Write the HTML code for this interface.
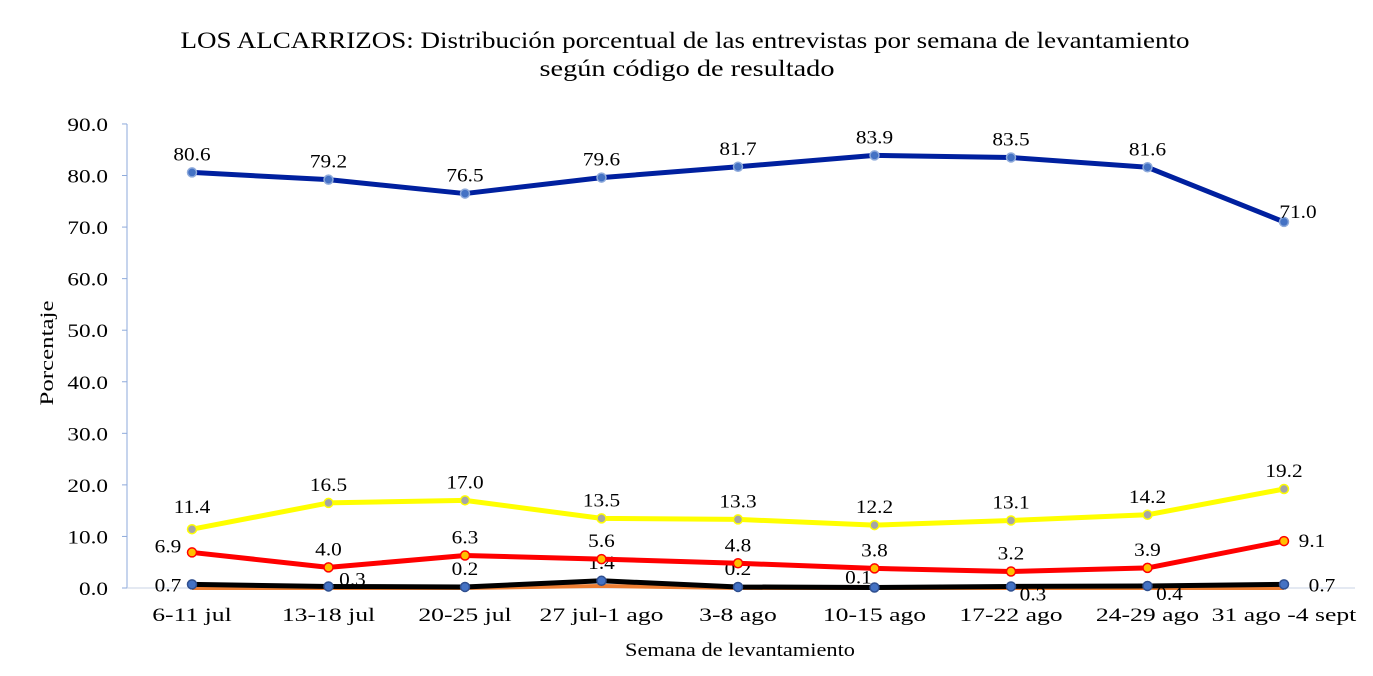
<!DOCTYPE html>
<html><head><meta charset="utf-8"><style>
body{margin:0;background:#fff;}
svg{display:block;font-family:"Liberation Serif",serif;}
</style></head><body>
<svg id="c" width="1373" height="676">
<text x="685" y="48" text-anchor="middle" font-size="23" textLength="1009" lengthAdjust="spacingAndGlyphs">LOS ALCARRIZOS: Distribución porcentual de las entrevistas por semana de levantamiento</text>
<text x="687" y="76" text-anchor="middle" font-size="23" textLength="295" lengthAdjust="spacingAndGlyphs">según código de resultado</text>
<text x="740" y="656" text-anchor="middle" font-size="19" textLength="230" lengthAdjust="spacingAndGlyphs">Semana de levantamiento</text>
<text transform="translate(53,353) rotate(-90)" text-anchor="middle" font-size="19" textLength="105" lengthAdjust="spacingAndGlyphs">Porcentaje</text>
<g id="plot"></g>
</svg>
<script>
const categories=["6-11 jul","13-18 jul","20-25 jul","27 jul-1 ago","3-8 ago","10-15 ago","17-22 ago","24-29 ago","31 ago -4 sept"];
const yTicks=[0,10,20,30,40,50,60,70,80,90];
const blueVals=[80.6,79.2,76.5,79.6,81.7,83.9,83.5,81.6,71.0];
const yellowVals=[11.4,16.5,17.0,13.5,13.3,12.2,13.1,14.2,19.2];
const redVals=[6.9,4.0,6.3,5.6,4.8,3.8,3.2,3.9,9.1];
const orangeVals=[0,0,0,0.4,0,0,0,0,0];
const blackVals=[0.7,0.3,0.2,1.4,0.2,0.1,0.3,0.4,0.7];
const NS="http://www.w3.org/2000/svg";
const g=document.getElementById('plot');
const x0=192,dx=136.5,yb=588,ppu=5.156;
const X=i=>x0+i*dx, Y=v=>yb-v*ppu;
function mk(t,a,p){const e=document.createElementNS(NS,t);for(const k in a)e.setAttribute(k,a[k]);(p||g).appendChild(e);return e;}
function stretch(t,k){const L=t.getComputedTextLength();t.setAttribute('textLength',L*k);t.setAttribute('lengthAdjust','spacingAndGlyphs');}
let ax=mk('line',{x1:127,y1:Y(90),x2:127,y2:yb,stroke:'#8eaadb','stroke-width':1});


let xa=mk('line',{x1:127,y1:yb,x2:1355,y2:yb,stroke:'#c9d3e6','stroke-width':1});


yTicks.forEach(t=>{
 mk('line',{x1:122,y1:Y(t),x2:127,y2:Y(t),stroke:'#8eaadb'});
 const tx=mk('text',{x:108,y:Y(t)+7,'text-anchor':'end','font-size':19});
 tx.textContent=t.toFixed(1);
 
 
 stretch(tx,1.22);
});
categories.forEach((c,i)=>{
 const tx=mk('text',{x:X(i),y:621,'text-anchor':'middle','font-size':19});
 tx.textContent=c;
 
 
 stretch(tx,1.35);
});
function series(vals,color,mfill,mstroke,name,labelOff,w){
 const pts=vals.map((v,i)=>X(i)+','+Y(v)).join(' ');
 const l=mk('polyline',{points:pts,fill:'none',stroke:color,'stroke-width':w||5,'stroke-linejoin':'round'});
 
 
 vals.forEach((v,i)=>{
  if(mfill){const c=mk('circle',{cx:X(i),cy:Y(v),r:4.5,fill:mfill,stroke:mstroke,'stroke-width':1.5});
  
  }
  if(labelOff){const o=labelOff[i];
  const t=mk('text',{x:X(i)+o[0],y:Y(v)+o[1],'text-anchor':'middle','font-size':19});
  t.textContent=v.toFixed(1);
  
  
  stretch(t,1.12);}
 });
}
const up=[[0,-12],[0,-12],[0,-12],[0,-12],[0,-12],[0,-12],[0,-12],[0,-12],[14,-4]];
series(orangeVals,'#ed7d31',null,null,'orange-series',null,4);
series(blackVals,'#000','#4472c4','#2f4f8f','black-series',[[-24,7],[24,-1],[0,-12],[0,-12],[0,-12],[-16,-4],[22,14],[22,14],[38,7]]);
series(redVals,'#ff0000','#ffc000','#ff0000','red-series',[[-24,0],[0,-12],[0,-12],[0,-12],[0,-12],[0,-12],[0,-12],[0,-12],[28,6]]);
series(yellowVals,'#ffff00','#a5a5a5','#ffff00','yellow-series',[[0,-16],[0,-12],[0,-12],[0,-12],[0,-12],[0,-12],[0,-12],[0,-12],[0,-12]]);
series(blueVals,'#00209f','#4472c4','#8eaadb','blue-series',up);
</script>
</body></html>
